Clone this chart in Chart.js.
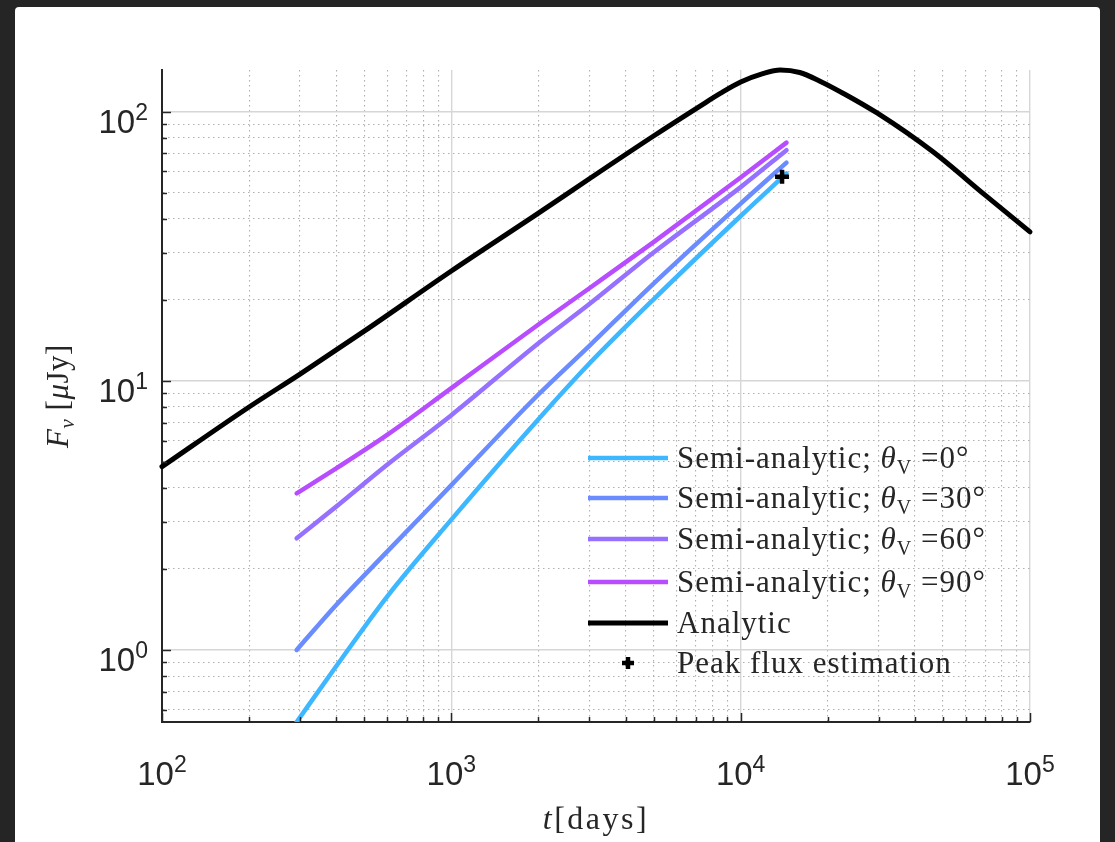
<!DOCTYPE html>
<html>
<head>
<meta charset="utf-8">
<script src="https://cdn.jsdelivr.net/npm/chart.js@4.4.0/dist/chart.umd.min.js"></script>
<style>
  html, body { margin: 0; padding: 0; background: #252525; overflow: hidden; }
  #panel { position: absolute; left: 15px; top: 7px; width: 1085px; height: 850px; background: #ffffff; border-radius: 4px; }
  #fluxChart { position: absolute; left: 0; top: 0; }
</style>
</head>
<body>
<div id="panel"></div>
<canvas id="fluxChart" width="1115" height="842"></canvas>
<script>
// Light curve data (t in days, F in microJy)
const tAnalytic = [100, 200, 300, 500, 1000, 2000, 3000, 5000, 7240, 8500, 10000, 12000, 13700, 16000, 18800, 23000, 29600, 46200, 70000, 100000];
const fAnalytic = [4.8, 8.0, 10.6, 15.3, 25.6, 42, 56.4, 81.3, 105, 117, 129, 139, 143, 140, 130, 116, 99, 71, 49, 35.8];

const tSemi = [292, 400, 600, 1000, 2000, 3000, 5000, 10000, 14400];
const fSemi0 = [0.54, 0.87, 1.58, 3.05, 7.2, 11.6, 20.1, 41, 59];
const fSemi30 = [1.0, 1.47, 2.32, 4.1, 8.9, 13.5, 23.0, 45.6, 64.7];
const fSemi60 = [2.6, 3.41, 4.88, 7.46, 13.8, 19.3, 30, 52.5, 72];
const fSemi90 = [3.82, 4.73, 6.3, 9.4, 16.2, 22.1, 32.8, 57, 76.8];

const tPeak = [13900];
const fPeak = [57.4];

const viewAngles = [0, 30, 60, 90];
const semiColors = ["#3db7ff", "#6b8cff", "#9670ff", "#b84cff"];

// Axis ranges and decade labels
const xMin = 100, xMax = 100000;
const yMin = 0.54, yMax = 143;
const xDecades = [2, 3, 4, 5];
const yDecades = [0, 1, 2];

const SANS = '"Liberation Sans", Arial, sans-serif';
const SERIF = '"Liberation Serif", "Times New Roman", serif';
const INK = "#262626";

function isDecade(v) {
  const l = Math.log10(v);
  return Math.abs(l - Math.round(l)) < 1e-9;
}

function logTickValues(minV, maxV) {
  const vals = [];
  for (let e = -1; e <= 5; e++) {
    for (let m = 1; m <= 9; m++) {
      const v = +(m * Math.pow(10, e)).toPrecision(6);
      if (v >= minV * 0.999 && v <= maxV * 1.001) vals.push(v);
    }
  }
  return vals;
}

function toPoints(ts, fs) {
  return ts.map((t, i) => ({ x: t, y: fs[i] }));
}

// draw a list of text runs [{text, font, dy}] starting at x
function drawRuns(ctx, runs, x, y, align, spacing) {
  ctx.letterSpacing = (spacing || 0) + "px";
  let w = 0;
  runs.forEach(r => { ctx.font = r.font; r.w = ctx.measureText(r.text).width; w += r.w; });
  let cx = align === "center" ? x - w / 2 : align === "right" ? x - w : x;
  ctx.textAlign = "left";
  ctx.textBaseline = "alphabetic";
  runs.forEach(r => {
    ctx.font = r.font;
    ctx.fillText(r.text, cx, y + (r.dy || 0));
    cx += r.w;
  });
  ctx.letterSpacing = "0px";
}

function powRuns(exp) {
  return [
    { text: "10", font: "33px " + SANS },
    { text: String(exp), font: "23px " + SANS, dy: -13 }
  ];
}

function semiRuns(angle) {
  return [
    { text: "Semi-analytic; ", font: "31px " + SERIF },
    { text: "θ", font: "italic 31px " + SERIF },
    { text: "V", font: "20px " + SERIF, dy: 6 },
    { text: " =" + angle + "°", font: "31px " + SERIF }
  ];
}

const overlayPlugin = {
  id: "overlay",
  afterDraw(chart) {
    const { ctx, chartArea, scales } = chart;
    const xs = scales.x, ys = scales.y;
    ctx.save();

    // inward tick marks, MATLAB style
    ctx.strokeStyle = INK;
    ctx.lineWidth = 1.5;
    xs.ticks.forEach(t => {
      const px = Math.round(xs.getPixelForValue(t.value)) + 0.5;
      const len = isDecade(t.value) ? 9 : 5;
      ctx.beginPath();
      ctx.moveTo(px, chartArea.bottom);
      ctx.lineTo(px, chartArea.bottom - len);
      ctx.stroke();
    });
    ys.ticks.forEach(t => {
      const py = Math.round(ys.getPixelForValue(t.value)) + 0.5;
      const len = isDecade(t.value) ? 9 : 5;
      ctx.beginPath();
      ctx.moveTo(chartArea.left, py);
      ctx.lineTo(chartArea.left + len, py);
      ctx.stroke();
    });

    // tick labels
    ctx.fillStyle = INK;
    xDecades.forEach(e => {
      const px = xs.getPixelForValue(Math.pow(10, e));
      drawRuns(ctx, powRuns(e), px, chartArea.bottom + 63, "center");
    });
    yDecades.forEach(e => {
      const py = ys.getPixelForValue(Math.pow(10, e));
      drawRuns(ctx, powRuns(e), chartArea.left - 14, py + 21, "right");
    });

    // axis titles
    const midX = (chartArea.left + chartArea.right) / 2;
    drawRuns(ctx, [
      { text: "t", font: "italic 32px " + SERIF },
      { text: "[days]", font: "32px " + SERIF }
    ], midX, chartArea.bottom + 107, "center", 2.5);

    ctx.save();
    ctx.translate(68, (chartArea.top + chartArea.bottom) / 2);
    ctx.rotate(-Math.PI / 2);
    drawRuns(ctx, [
      { text: "F", font: "italic 31px " + SERIF },
      { text: "ν", font: "italic 21px " + SERIF, dy: 6 },
      { text: " [", font: "31px " + SERIF },
      { text: "μ", font: "italic 31px " + SERIF },
      { text: "Jy]", font: "31px " + SERIF }
    ], 0, 0, "center", 0.5);
    ctx.restore();

    // legend (no box, grid shows through)
    const rowY = [458, 498, 539, 582, 623, 663];
    const lineX0 = 588, lineX1 = 668, textX = 677;
    const sets = chart.data.datasets;
    sets.forEach((ds, i) => {
      const y = rowY[i];
      ctx.strokeStyle = ds.borderColor;
      if (ds.showLine) {
        ctx.lineWidth = ds.borderWidth;
        ctx.lineCap = "butt";
        ctx.beginPath();
        ctx.moveTo(lineX0, y);
        ctx.lineTo(lineX1, y);
        ctx.stroke();
      } else {
        ctx.lineWidth = 4.5;
        ctx.beginPath();
        ctx.moveTo(628 - 6, y); ctx.lineTo(628 + 6, y);
        ctx.moveTo(628, y - 6); ctx.lineTo(628, y + 6);
        ctx.stroke();
      }
      ctx.fillStyle = INK;
      const runs = i < viewAngles.length ? semiRuns(viewAngles[i]) : [{ text: ds.label, font: "31px " + SERIF }];
      drawRuns(ctx, runs, textX, y + 10, "left", 1.0);
    });

    ctx.restore();
  }
};

const lineBase = {
  showLine: true,
  fill: false,
  pointRadius: 0,
  borderWidth: 4.5,
  borderCapStyle: "round",
  borderJoinStyle: "round",
  cubicInterpolationMode: "monotone"
};

const semiSeries = [fSemi0, fSemi30, fSemi60, fSemi90];
const datasets = semiSeries.map((fs, i) => Object.assign({}, lineBase, {
  label: "Semi-analytic; θV =" + viewAngles[i] + "°",
  data: toPoints(tSemi, fs),
  borderColor: semiColors[i],
  order: 5 - i
}));
datasets.push(Object.assign({}, lineBase, {
  label: "Analytic",
  data: toPoints(tAnalytic, fAnalytic),
  borderColor: "#000000",
  borderWidth: 5,
  clip: 8,
  order: 1
}));
datasets.push({
  label: "Peak flux estimation",
  data: toPoints(tPeak, fPeak),
  showLine: false,
  pointStyle: "cross",
  pointRadius: 7,
  borderWidth: 4.5,
  borderColor: "#000000",
  backgroundColor: "#000000",
  order: 0
});

function gridOpts() {
  return {
    color: ctx => (ctx.tick && isDecade(ctx.tick.value)) ? "#d6d6d6" : "#b0b0b0",
    lineWidth: ctx => (ctx.tick && isDecade(ctx.tick.value)) ? 1.4 : 1.1,
    drawTicks: false
  };
}

function borderOpts() {
  return {
    display: true,
    color: INK,
    width: 2,
    dash: ctx => (ctx.tick && !isDecade(ctx.tick.value)) ? [1.5, 3.5] : []
  };
}

new Chart(document.getElementById("fluxChart"), {
  type: "scatter",
  data: { datasets: datasets },
  options: {
    responsive: false,
    animation: false,
    layout: { padding: { top: 70, right: 85, bottom: 0, left: 0 } },
    plugins: {
      legend: { display: false },
      tooltip: { enabled: false }
    },
    scales: {
      x: {
        type: "logarithmic",
        min: xMin,
        max: xMax,
        ticks: { display: false },
        grid: gridOpts(),
        border: borderOpts(),
        afterBuildTicks: s => { s.ticks = logTickValues(xMin, xMax).map(v => ({ value: v, major: isDecade(v) })); },
        afterFit: s => { s.height = 120; }
      },
      y: {
        type: "logarithmic",
        min: yMin,
        max: yMax,
        ticks: { display: false },
        grid: gridOpts(),
        border: borderOpts(),
        afterBuildTicks: s => { s.ticks = logTickValues(yMin, yMax).map(v => ({ value: v, major: isDecade(v) })); },
        afterFit: s => { s.width = 162; }
      }
    }
  },
  plugins: [overlayPlugin]
});
</script>
</body>
</html>
